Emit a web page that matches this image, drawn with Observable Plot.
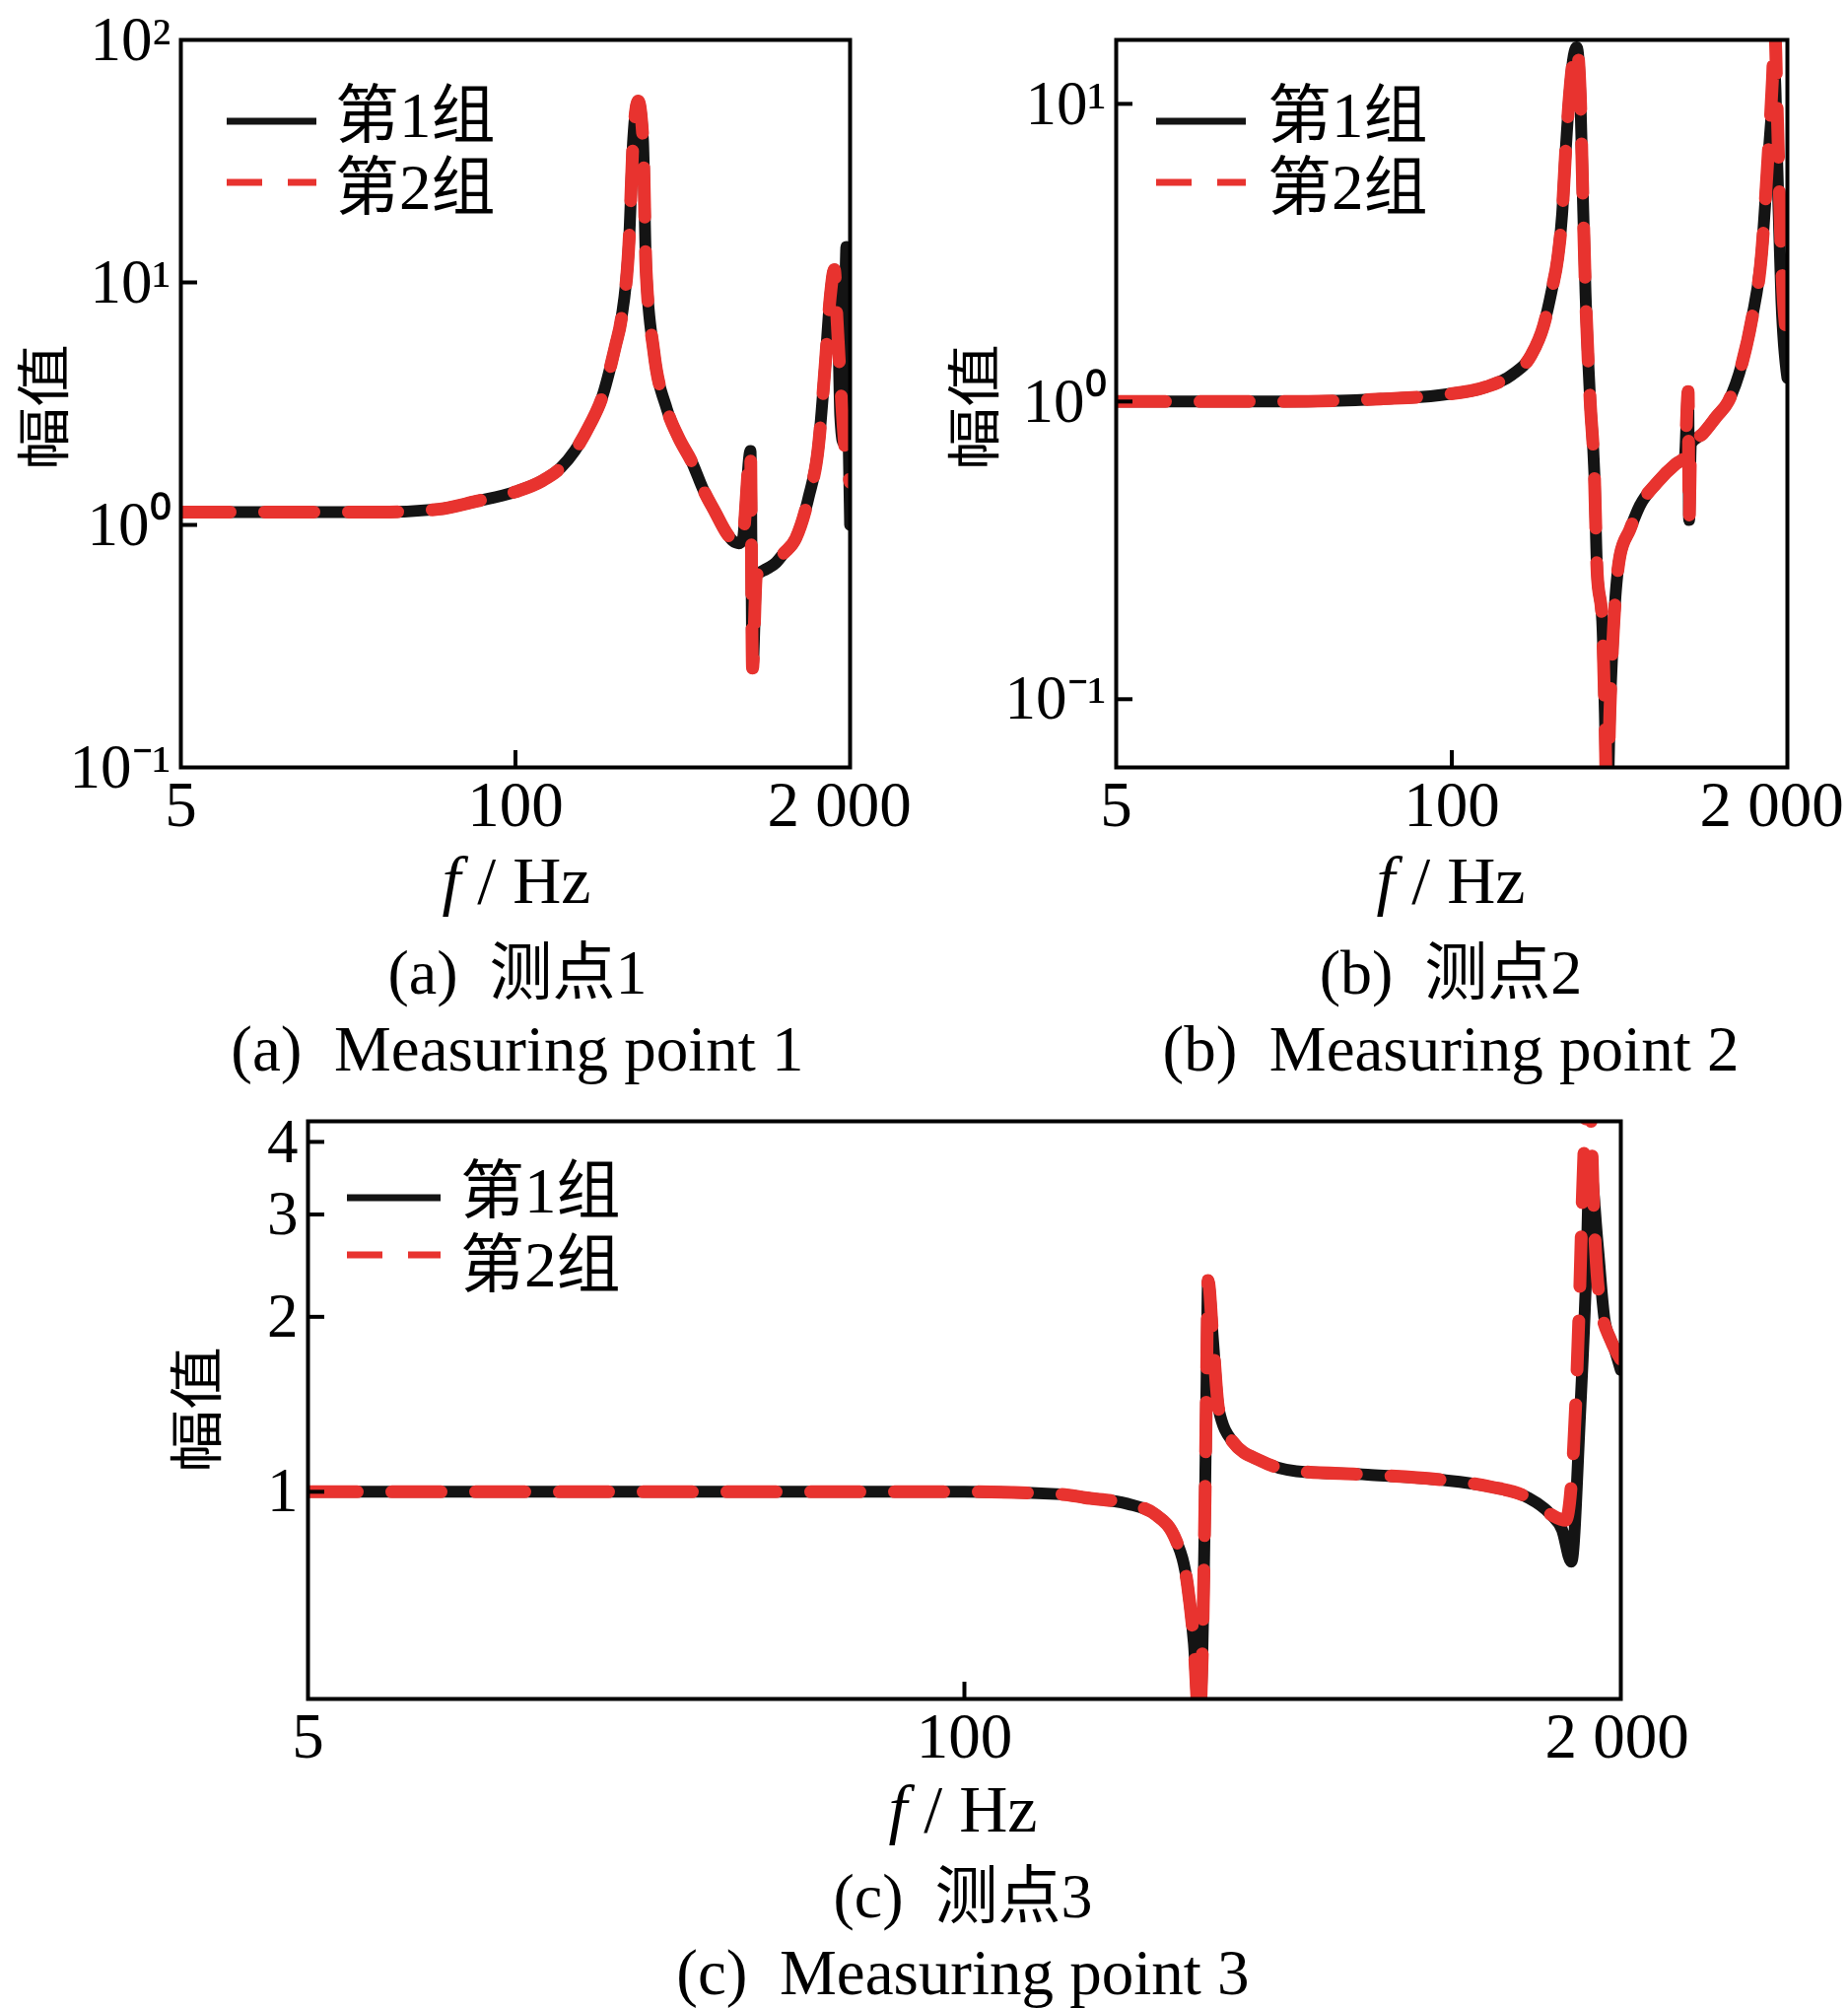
<!DOCTYPE html>
<html><head><meta charset="utf-8">
<script src="https://cdn.jsdelivr.net/npm/d3@7"></script>
<script src="https://cdn.jsdelivr.net/npm/@observablehq/plot@0.6"></script>
<style>
body{margin:0;background:#fff;}
#page{position:relative;width:1875px;height:2037px;overflow:hidden;background:#fff;}
.panel{position:absolute;}
#overlay{position:absolute;left:0;top:0;pointer-events:none;}
</style></head><body><div id="page"></div>
<script>
// ---------- data ----------
// x axis (all panels)
const xTicks = [5, 100, 2000];
const xTickLabels = ["5", "100", "2 000"];
const xInnerTicks = [100];

// Panel (a) measuring point 1
const aFreq1 = [5, 30, 50, 70, 100, 127, 150, 170, 195, 216, 245, 258, 277, 287, 300, 313, 322, 345, 388, 430, 487, 537, 600, 660, 700, 740, 764, 820, 835, 865, 950, 1032, 1100, 1230, 1380, 1506, 1604, 1676, 1738, 1800, 1832, 1880, 1935, 1965, 2000];
const aVal1  = [1.13, 1.13, 1.16, 1.25, 1.37, 1.52, 1.72, 2.02, 2.6, 3.3, 5.5, 7.07, 15.4, 39, 56, 39, 11.3, 5.2, 3.0, 2.3, 1.8, 1.4, 1.12, 0.93, 0.86, 0.84, 0.87, 2.02, 0.257, 0.62, 0.66, 0.70, 0.76, 0.88, 1.3, 2.1, 4.7, 8.8, 11.3, 6.2, 2.8, 2.2, 14, 3, 1.0];
const aFreq2 = [5, 30, 50, 70, 100, 127, 150, 170, 195, 216, 245, 258, 277, 287, 300, 313, 322, 345, 388, 430, 487, 537, 600, 660, 700, 740, 764, 820, 835, 865, 950, 1032, 1100, 1230, 1380, 1506, 1604, 1676, 1738, 1780, 1832, 1914, 2000];
const aVal2  = [1.13, 1.13, 1.16, 1.25, 1.37, 1.52, 1.72, 2.02, 2.6, 3.3, 5.5, 7.07, 15.4, 39, 56, 39, 11.3, 5.2, 3.0, 2.3, 1.8, 1.4, 1.12, 0.93, 0.86, 0.84, 0.87, 2.02, 0.257, 0.62, 0.66, 0.70, 0.76, 0.88, 1.3, 2.1, 4.7, 8.8, 11.3, 7.0, 4.0, 2.0, 1.5];
const aYDomain = [0.1, 100];
const aYTicks = [100, 10, 1, 0.1];
const aYTickLabels = ["10²", "10¹", "10⁰", "10⁻¹"];
const aYInnerTicks = [10, 1];

// Panel (b) measuring point 2
const bFreq1 = [5, 22, 53, 89, 136, 171, 203, 227, 245, 257, 268, 276, 288, 297, 305, 315, 322, 330, 344, 357, 366, 383, 392, 400, 410, 420, 429, 449, 490, 535, 621, 740, 800, 825, 832, 845, 940, 1062, 1180, 1336, 1458, 1592, 1678, 1750, 1785, 1830, 1896, 2000];
const bVal1  = [1.0, 1.0, 1.02, 1.05, 1.12, 1.23, 1.43, 1.8, 2.4, 3.0, 4.3, 6.8, 11.5, 14.5, 15.5, 10.6, 5.0, 2.31, 1.0, 0.573, 0.267, 0.183, 0.09, 0.04, 0.09, 0.15, 0.208, 0.304, 0.371, 0.446, 0.531, 0.618, 0.65, 1.08, 0.40, 0.72, 0.78, 0.89, 1.0, 1.35, 1.9, 3.2, 6.2, 10, 12.5, 6, 2.2, 1.2];
const bFreq2 = [5, 22, 53, 89, 136, 171, 203, 227, 245, 257, 268, 276, 288, 297, 305, 315, 322, 330, 344, 357, 366, 383, 392, 400, 410, 420, 429, 449, 490, 535, 621, 740, 800, 825, 832, 845, 940, 1062, 1180, 1336, 1458, 1592, 1678, 1750, 1785, 1830, 1896, 2000];
const bVal2  = [1.0, 1.0, 1.02, 1.05, 1.12, 1.23, 1.43, 1.8, 2.4, 3.0, 4.3, 6.8, 11.5, 14.5, 15.5, 10.6, 5.0, 2.31, 1.0, 0.573, 0.267, 0.183, 0.09, 0.04, 0.09, 0.15, 0.208, 0.304, 0.371, 0.446, 0.531, 0.618, 0.65, 1.08, 0.40, 0.72, 0.78, 0.89, 1.0, 1.35, 1.9, 3.2, 6.4, 12, 18, 9, 3.0, 1.6];
const bYDomain = [0.059, 16.4];
const bYTicks = [10, 1, 0.1];
const bYTickLabels = ["10¹", "10⁰", "10⁻¹"];
const bYInnerTicks = [10, 1, 0.1];

// Panel (c) measuring point 3
const cFreq1 = [5, 20, 60, 100, 156, 173, 210, 239, 263, 277, 285, 292, 300, 302, 304, 311, 319, 340, 387, 455, 630, 867, 1104, 1300, 1452, 1530, 1596, 1660, 1710, 1735, 1800, 1860, 1940, 2000];
const cVal1  = [1.0, 1.0, 1.0, 1.0, 0.99, 0.977, 0.954, 0.914, 0.823, 0.688, 0.548, 0.40, 1.0, 1.57, 2.31, 1.82, 1.39, 1.22, 1.13, 1.085, 1.07, 1.05, 1.02, 0.98, 0.914, 0.86, 0.758, 1.35, 2.45, 3.68, 2.66, 1.96, 1.77, 1.62];
const cFreq2 = [5, 20, 60, 100, 156, 173, 210, 239, 263, 277, 285, 292, 300, 302, 304, 311, 319, 340, 387, 455, 630, 867, 1104, 1300, 1452, 1555, 1610, 1655, 1680, 1700, 1725, 1745, 1762, 1819, 1912, 2000];
const cVal2  = [1.0, 1.0, 1.0, 1.0, 0.99, 0.977, 0.954, 0.914, 0.823, 0.688, 0.548, 0.40, 1.0, 1.57, 2.31, 1.82, 1.39, 1.22, 1.13, 1.085, 1.07, 1.05, 1.02, 0.98, 0.914, 0.893, 1.16, 2.11, 3.31, 4.29, 4.8, 4.4, 3.3, 2.11, 1.82, 1.69];
const cYDomain = [0.44, 4.34];
const cYTicks = [4, 3, 2, 1];
const cYTickLabels = ["4", "3", "2", "1"];
const cYInnerTicks = [4, 3, 2, 1];

const legendLabels = ["第1组", "第2组"];
const yLabel = "幅值";
const captions = [
  ["(a)  测点1", "(a)  Measuring point 1"],
  ["(b)  测点2", "(b)  Measuring point 2"],
  ["(c)  测点3", "(c)  Measuring point 3"]
];

// ---------- drawing ----------
const SERIF = '"Liberation Serif","Times New Roman",serif';
const MIXED = '"Liberation Serif","Noto Sans CJK SC",serif';
const BLACK = "#141414";
const RED = "#e8332f";
const page = document.getElementById("page");

function panel(o) {
  const d1 = o.f1.map((f, i) => ({f, v: o.v1[i]}));
  const d2 = o.f2.map((f, i) => ({f, v: o.v2[i]}));
  // x tick labels drawn as text marks anchored to the bottom of the frame
  const xLabelMarks = xTicks.map((t, i) => Plot.text([t], {
    x: d => d, text: () => xTickLabels[i], frameAnchor: "bottom", lineAnchor: "top", textAnchor: "middle",
    dy: 13, dx: o.xdx[i], fontSize: 65, fontFamily: SERIF, fill: "black"
  }));
  const svg = Plot.plot({
    width: o.width, height: o.height,
    marginLeft: o.mL, marginRight: o.mR, marginTop: o.mT, marginBottom: o.mB,
    x: {type: "log", domain: [5, 2000]},
    y: {type: "log", domain: o.yDomain},
    style: {fontFamily: SERIF, background: "transparent", color: "black", overflow: "visible"},
    marks: [
      Plot.line(d1, {x: "f", y: "v", stroke: BLACK, strokeWidth: 12, strokeLinejoin: "round", curve: "monotone-x", clip: true}),
      Plot.line(d2, {x: "f", y: "v", stroke: RED, strokeWidth: 13, strokeLinejoin: "round", curve: "monotone-x", strokeDasharray: "50,35", clip: true}),
      ...xLabelMarks,
      Plot.axisX({ticks: xInnerTicks, tickSize: -17, strokeWidth: 4, stroke: "black", fill: "none", label: null}),
      Plot.axisY({ticks: o.yTicks, tickFormat: d => o.yLabels[o.yTicks.indexOf(d)], tickSize: 0, tickPadding: 10, fontSize: 63, fontFamily: SERIF, fill: "black", label: null}),
      Plot.axisY({ticks: o.yInner, tickSize: -17, strokeWidth: 4, stroke: "black", fill: "none", label: null}),
      Plot.frame({stroke: "black", strokeWidth: 4})
    ]
  });
  svg.classList.add("panel");
  svg.style.left = o.left + "px";
  svg.style.top = o.top + "px";
  page.appendChild(svg);
}

panel({f1: aFreq1, v1: aVal1, f2: aFreq2, v2: aVal2, yDomain: aYDomain, yTicks: aYTicks, yLabels: aYTickLabels, yInner: aYInnerTicks,
  left: 0, top: 0, width: 930, height: 870, mL: 183, mR: 68, mT: 40, mB: 92, xdx: [0, 0, -11]});
panel({f1: bFreq1, v1: bVal1, f2: bFreq2, v2: bVal2, yDomain: bYDomain, yTicks: bYTicks, yLabels: bYTickLabels, yInner: bYInnerTicks,
  left: 930, top: 0, width: 945, height: 870, mL: 202, mR: 62, mT: 40, mB: 92, xdx: [0, 0, -16]});
panel({f1: cFreq1, v1: cVal1, f2: cFreq2, v2: cVal2, yDomain: cYDomain, yTicks: cYTicks, yLabels: cYTickLabels, yInner: cYInnerTicks,
  left: 0, top: 1100, width: 1875, height: 715, mL: 312, mR: 231, mT: 37, mB: 92, xdx: [0, 0, -4]});

// overlay: legends, axis titles, captions
const ov = d3.select(page).append("svg").attr("id", "overlay").attr("width", 1875).attr("height", 2037);

function legend(x0, x1, y1, y2, tx, ty1, ty2) {
  ov.append("line").attr("x1", x0).attr("x2", x1).attr("y1", y1).attr("y2", y1).attr("stroke", BLACK).attr("stroke-width", 7);
  ov.append("line").attr("x1", x0).attr("x2", x1).attr("y1", y2).attr("y2", y2).attr("stroke", RED).attr("stroke-width", 7).attr("stroke-dasharray", "36,26");
  [ty1, ty2].forEach((ty, i) => ov.append("text").attr("x", tx).attr("y", ty).attr("dominant-baseline", "central")
    .attr("font-family", MIXED).attr("font-size", 65).attr("fill", "black").text(legendLabels[i]));
}
legend(230, 321, 123, 185, 340, 117, 190);
legend(1173, 1264, 123, 185, 1286, 117, 190);
legend(352, 447, 1215, 1273, 467, 1208, 1283);

function ylab(cx, cy) {
  ov.append("text").attr("transform", `translate(${cx},${cy}) rotate(-90) scale(1,0.85)`).attr("text-anchor", "middle").attr("dominant-baseline", "central")
    .attr("font-family", '"Noto Sans CJK SC",sans-serif').attr("font-size", 64).attr("fill", "black").text(yLabel);
}
ylab(40, 413); ylab(984, 413); ylab(195, 1430);

function xlab(cx, base) {
  const t = ov.append("text").attr("x", cx).attr("y", base).attr("text-anchor", "middle").attr("font-family", SERIF)
    .attr("font-size", 68).attr("fill", "black").style("white-space", "pre");
  t.append("tspan").attr("font-style", "italic").text("f");
  t.append("tspan").text(" / Hz");
}
function caption(cx, b1, b2, lines) {
  ov.append("text").attr("x", cx).attr("y", b1).attr("text-anchor", "middle").attr("font-family", MIXED)
    .attr("font-size", 64).attr("fill", "black").style("white-space", "pre").text(lines[0]);
  ov.append("text").attr("x", cx).attr("y", b2).attr("text-anchor", "middle").attr("font-family", SERIF)
    .attr("font-size", 65).attr("fill", "black").style("white-space", "pre").text(lines[1]);
}
xlab(524, 916); caption(525, 1008, 1086, captions[0]);
xlab(1472, 916); caption(1472, 1008, 1086, captions[1]);
xlab(977, 1858); caption(977, 1945, 2023, captions[2]);
</script></body></html>
